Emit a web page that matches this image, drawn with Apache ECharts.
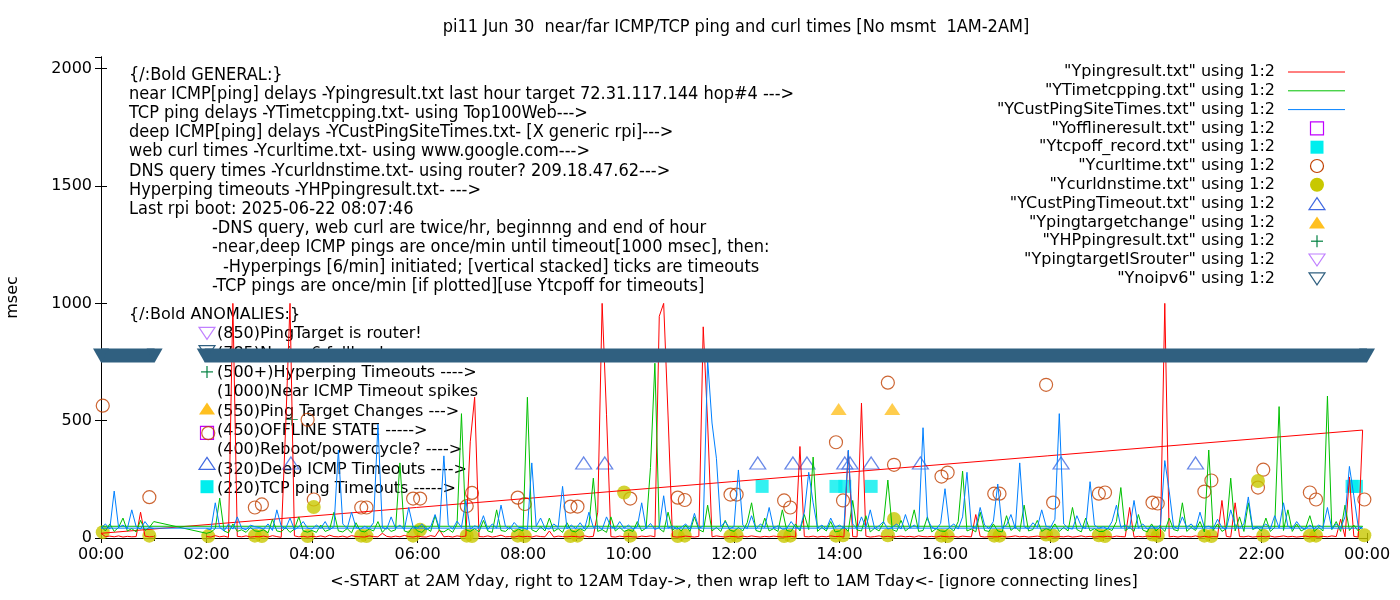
<!DOCTYPE html>
<html>
<head>
<meta charset="utf-8">
<title>pi11 Jun 30 near/far ICMP/TCP ping and curl times</title>
<script src="https://cdn.jsdelivr.net/npm/echarts@6/dist/echarts.min.js"></script>
<style>
  html, body { margin: 0; padding: 0; background: #fff; }
  #chart-panel { width: 1400px; height: 600px; }
</style>
</head>
<body>
<div id="chart-panel"></div>
<script>
/* samples are 5 min apart, x is minute of the day */
const STEP = 5
const MAIN_START = 120   // 02:00 yesterday, runs right to 24:00
const WRAP_START = 0     // then wraps to 00:00 today

/* near ICMP ping, Ypingresult.txt (red) 02:00 .. 23:55, one row per hour */
const nearIcmpMs = [
  6, 4, 10, 5, 8, 3, 1000, 7, 5, 9, 4, 6,
  5, 8, 4, 10, 6, 3, 470, 1000, 9, 5, 7, 4,
  7, 5, 9, 4, 12, 6, 5, 8, 3, 10, 6, 5,
  4, 9, 6, 5, 20, 7, 4, 8, 5, 11, 6, 4,
  8, 5, 4, 10, 6, 35, 5, 7, 4, 9, 6, 8,
  410, 600, 6, 5, 9, 4, 7, 12, 5, 6, 4, 8,
  5, 7, 4, 9, 6, 5, 30, 4, 8, 6, 5, 7,
  6, 4, 9, 5, 7, 110, 1000, 525, 6, 4, 8, 5,
  7, 5, 4, 8, 6, 9, 5, 945, 1000, 520, 6, 4,
  5, 8, 6, 4, 7, 900, 490, 5, 9, 6, 4, 7,
  6, 4, 8, 5, 9, 6, 4, 7, 5, 8, 6, 4,
  5, 7, 4, 390, 6, 5, 8, 4, 7, 5, 9, 6,
  7, 4, 370, 6, 5, 575, 8, 4, 6, 9, 5, 7,
  4, 6, 8, 5, 7, 4, 9, 6, 5, 7, 4, 8,
  6, 5, 7, 4, 8, 6, 5, 100, 7, 4, 6, 5,
  5, 8, 4, 6, 9, 5, 7, 4, 6, 8, 5, 4,
  7, 4, 6, 5, 8, 4, 6, 9, 5, 7, 4, 6,
  5, 7, 4, 8, 6, 5, 130, 4, 7, 5, 8, 6,
  6, 4, 1000, 5, 7, 4, 8, 6, 5, 9, 4, 7,
  4, 6, 5, 160, 7, 4, 150, 6, 5, 8, 4, 6,
  7, 5, 8, 4, 6, 9, 5, 7, 4, 6, 8, 5,
  6, 4, 7, 5, 9, 6, 80, 5, 260, 7, 4, 460
]
const nearIcmpWrapMs = [20, 6, 8, 5, 9, 4, 7, 5, 6, 110, 8, 5, 6]

/* TCP ping, YTimetcpping.txt (green); file opens with one 01:00 sample */
const tcpLeadSample = [60, 70]
const tcpPingMs = [
  20, 25, 40, 170, 30, 22, 60, 28, 35, 24, 45, 30,
  28, 35, 22, 80, 30, 26, 45, 24, 38, 90, 30, 25,
  32, 24, 55, 28, 36, 110, 30, 26, 40, 22, 65, 30,
  26, 38, 30, 70, 24, 45, 28, 35, 320, 30, 24, 50,
  30, 24, 42, 28, 95, 30, 26, 38, 24, 60, 530, 35,
  28, 40, 26, 75, 30, 24, 120, 32, 28, 45, 26, 38,
  30, 600, 35, 26, 48, 30, 85, 28, 40, 24, 65, 30,
  26, 40, 30, 55, 255, 28, 36, 24, 90, 30, 45, 28,
  35, 28, 70, 30, 42, 300, 745, 40, 26, 110, 32, 48,
  30, 55, 28, 90, 36, 26, 140, 30, 45, 28, 75, 34,
  28, 45, 30, 65, 150, 32, 26, 85, 30, 40, 28, 120,
  32, 28, 60, 30, 100, 36, 345, 28, 45, 30, 70, 26,
  30, 48, 28, 160, 34, 30, 95, 26, 42, 30, 65, 247,
  36, 28, 75, 30, 45, 120, 28, 32, 90, 26, 40, 30,
  28, 45, 30, 70, 285, 30, 38, 26, 110, 32, 28, 60,
  30, 26, 95, 32, 48, 28, 140, 30, 36, 75, 28, 40,
  32, 60, 28, 45, 30, 130, 36, 26, 85, 30, 40, 28,
  28, 40, 32, 70, 215, 30, 45, 28, 100, 34, 26, 60,
  30, 48, 28, 85, 36, 30, 150, 28, 45, 32, 70, 26,
  375, 32, 60, 28, 40, 255, 30, 90, 28, 150, 36, 45,
  30, 85, 28, 45, 560, 32, 120, 28, 60, 30, 40, 95,
  28, 45, 30, 605, 36, 70, 28, 140, 32, 55, 30, 50
]
const tcpPingWrapMs = [50, 30, 60, 28, 45, 85, 30, 40, 26, 75, 32, 45, 70]

/* deep ICMP ping, YCustPingSiteTimes.txt (blue) */
const deepIcmpMs = [
  40, 35, 150, 45, 30, 60, 38, 90, 42, 35, 55, 48,
  45, 38, 60, 32, 120, 50, 40, 85, 35, 48, 70, 42,
  38, 55, 42, 70, 35, 48, 375, 60, 40, 110, 45, 38,
  50, 40, 65, 485, 45, 38, 90, 42, 55, 36, 130, 48,
  42, 60, 35, 48, 100, 40, 350, 55, 38, 72, 45, 160,
  38, 52, 44, 95, 36, 60, 42, 140, 50, 38, 66, 45,
  44, 36, 320, 50, 85, 42, 38, 60, 45, 220, 40, 55,
  40, 65, 38, 110, 45, 52, 36, 90, 48, 40, 70, 42,
  55, 38, 48, 150, 40, 62, 36, 45, 180, 42, 50, 38,
  45, 60, 38, 105, 42, 50, 760, 490, 340, 48, 70, 40,
  48, 290, 55, 40, 95, 38, 60, 45, 130, 42, 52, 38,
  40, 70, 45, 38, 110, 280, 150, 42, 55, 38, 85, 45,
  55, 42, 375, 60, 38, 90, 45, 120, 40, 52, 70, 38,
  45, 60, 38, 100, 42, 55, 40, 470, 80, 45, 38, 62,
  210, 45, 60, 38, 90, 280, 48, 42, 130, 55, 40, 70,
  230, 42, 55, 100, 40, 320, 48, 38, 65, 45, 120, 50,
  45, 80, 530, 60, 42, 38, 95, 50, 40, 240, 55, 42,
  48, 38, 70, 140, 45, 55, 40, 160, 42, 60, 38, 50,
  42, 55, 330, 200, 48, 40, 90, 45, 60, 38, 110, 45,
  50, 40, 80, 45, 38, 120, 55, 42, 60, 175, 40, 48,
  45, 60, 38, 95, 42, 150, 50, 40, 70, 45, 38, 55,
  40, 55, 45, 130, 38, 60, 42, 90, 305, 180, 48, 42
]
const deepIcmpWrapMs = [42, 60, 38, 200, 45, 55, 40, 120, 48, 38, 70, 45, 40]

/* [minute, msec] */
const curlTime = [
  [2, 564], [55, 174], [122, 447], [175, 130], [183, 143], [235, 504], [242, 164],
  [296, 130], [302, 130], [355, 168], [363, 168], [416, 136], [422, 192],
  [474, 172], [482, 145], [534, 134], [542, 134], [602, 168], [656, 172],
  [664, 162], [716, 185], [723, 185], [777, 160], [784, 130], [836, 408],
  [844, 160], [895, 662], [902, 312], [956, 262], [963, 279], [1016, 189],
  [1022, 189], [1075, 653], [1083, 151], [1135, 189], [1142, 194], [1196, 151],
  [1202, 147], [1255, 198], [1263, 245], [1316, 215], [1322, 291], [1375, 194],
  [1382, 164], [1437, 164]
]
const curlDnsTime = [
  [2, 25], [55, 10], [122, 8], [175, 10], [183, 8], [235, 8], [242, 132],
  [296, 10], [302, 8], [355, 10], [363, 35], [416, 10], [422, 8], [474, 10],
  [482, 8], [534, 8], [542, 10], [595, 194], [602, 10], [656, 8], [664, 10],
  [716, 8], [723, 10], [777, 8], [784, 10], [836, 10], [844, 12], [895, 12],
  [902, 81], [956, 10], [963, 8], [1016, 10], [1022, 10], [1075, 15], [1083, 10],
  [1135, 12], [1142, 8], [1196, 15], [1202, 10], [1255, 10], [1263, 8],
  [1316, 243], [1322, 10], [1375, 10], [1382, 10], [1437, 12]
]
const custPingTimeout = [
  [216, 320], [549, 320], [573, 320], [747, 320], [787, 320], [803, 320],
  [846, 320], [852, 320], [876, 320], [932, 320], [1092, 320], [1245, 320]
]
const tcpoffRecord = [[752, 220], [836, 220], [846, 220], [876, 220], [1423, 220], [1428, 220]]
const pingTargetChange = [[839, 550], [900, 550]]
const hpPingResult = [[217, 505]]
const offlineResult = []
const pingTargetIsRouter = []
const noIpv6Early = [[0, 778], [61, 778]]
const noIpv6Late = [[118, 778], [1440, 778]]

const Y_MAX = 2050
const X_TICKS_MIN = 120

const titleText = 'pi11 Jun 30  near/far ICMP/TCP ping and curl times [No msmt  1AM-2AM]'
const xName = '<-START at 2AM Yday, right to 12AM Tday->, then wrap left to 1AM Tday<- [ignore connecting lines]'

const generalNotes = [
  '{/:Bold GENERAL:}',
  'near ICMP[ping] delays -Ypingresult.txt last hour target 72.31.117.144 hop#4 --->',
  'TCP ping delays -YTimetcpping.txt- using Top100Web--->',
  'deep ICMP[ping] delays -YCustPingSiteTimes.txt- [X generic rpi]--->',
  'web curl times -Ycurltime.txt- using www.google.com--->',
  'DNS query times -Ycurldnstime.txt- using router? 209.18.47.62--->',
  'Hyperping timeouts -YHPpingresult.txt- --->',
  'Last rpi boot: 2025-06-22 08:07:46',
  '-DNS query, web curl are twice/hr, beginnng and end of hour',
  '-near,deep ICMP pings are once/min until timeout[1000 msec], then:',
  '-Hyperpings [6/min] initiated; [vertical stacked] ticks are timeouts',
  '-TCP pings are once/min [if plotted][use Ytcpoff for timeouts]'
]
const anomalyNotes = [
  '{/:Bold ANOMALIES:}',
  '(850)PingTarget is router!',
  '(785)No ipv6 fallback',
  '(500+)Hyperping Timeouts ---->',
  '(1000)Near ICMP Timeout spikes',
  '(550)Ping Target Changes --->',
  '(450)OFFLINE STATE ----->',
  '(400)Reboot/powercycle? ---->',
  '(320)Deep ICMP Timeouts ---->',
  '(220)TCP ping Timeouts ----->'
]
const keyNames = [
  '"Ypingresult.txt" using 1:2',
  '"YTimetcpping.txt" using 1:2',
  '"YCustPingSiteTimes.txt" using 1:2',
  '"Yofflineresult.txt" using 1:2',
  '"Ytcpoff_record.txt" using 1:2',
  '"Ycurltime.txt" using 1:2',
  '"Ycurldnstime.txt" using 1:2',
  '"YCustPingTimeout.txt" using 1:2',
  '"Ypingtargetchange" using 1:2',
  '"YHPpingresult.txt" using 1:2',
  '"YpingtargetISrouter" using 1:2',
  '"Ynoipv6" using 1:2'
]

! function(){
  const SANS = 'DejaVu Sans'
  const NARROW = '"DejaVu Sans Condensed", "DejaVu Sans"'
  const NONE = 'rgba(0,0,0,0)'

  /* 颜色 / 点样式, 与 gnuplot 的配色一致. */
  const C = {
    red: '#ff0000', green: '#00c000', blue: '#0080ff',
    offline: '#c000ff', tcpoff: '#00eeee', curl: '#c04000', dns: '#c8c800',
    custTimeout: '#4169e1', target: '#ffc020', hp: '#008040',
    router: '#c080ff', noipv6: '#306080'
  }

  /* 值序列 -> [分钟, 值]. */
  function onGrid(start, values){
    return values.map((v, i) => [start + i * STEP, v])
  }

  let redData = onGrid(MAIN_START, nearIcmpMs).concat(onGrid(WRAP_START, nearIcmpWrapMs))
  let greenData = [tcpLeadSample].concat(onGrid(MAIN_START, tcpPingMs), onGrid(WRAP_START, tcpPingWrapMs))
  let blueData = onGrid(MAIN_START, deepIcmpMs).concat(onGrid(WRAP_START, deepIcmpWrapMs))

  function hourLabel(v){
    let h = Math.round(v / 60) % 24
    return (h < 10 ? '0' : '') + h + ':00'
  }

  /* 图例/注释里的小图标. */
  function icon(kind, color, cx, cy){
    let stroke = { stroke: color, lineWidth: 1.2, fill: NONE }
    let fill = { fill: color }
    switch (kind) {
      case 'line':
        return [{ type: 'line', shape: { x1: cx - 29, y1: cy, x2: cx + 28, y2: cy }, style: { stroke: color, lineWidth: 1 } }]
      case 'sqOpen':
        return [{ type: 'rect', shape: { x: cx - 6.5, y: cy - 6.5, width: 13, height: 13 }, style: stroke }]
      case 'sqFill':
        return [{ type: 'rect', shape: { x: cx - 6.5, y: cy - 6.5, width: 13, height: 13 }, style: fill }]
      case 'circOpen':
        return [{ type: 'circle', shape: { cx: cx, cy: cy, r: 6.5 }, style: stroke }]
      case 'circFill':
        return [{ type: 'circle', shape: { cx: cx, cy: cy, r: 7 }, style: fill }]
      case 'triUpOpen':
        return [{ type: 'polygon', shape: { points: [[cx - 8, cy + 6], [cx + 8, cy + 6], [cx, cy - 6]] }, style: stroke }]
      case 'triUpFill':
        return [{ type: 'polygon', shape: { points: [[cx - 8, cy + 6], [cx + 8, cy + 6], [cx, cy - 6]] }, style: fill }]
      case 'triDownOpen':
        return [{ type: 'polygon', shape: { points: [[cx - 8, cy - 6], [cx + 8, cy - 6], [cx, cy + 6]] }, style: stroke }]
      case 'plus':
        return [
          { type: 'line', shape: { x1: cx - 6, y1: cy, x2: cx + 6, y2: cy }, style: { stroke: color, lineWidth: 1.2 } },
          { type: 'line', shape: { x1: cx, y1: cy - 6, x2: cx, y2: cy + 6 }, style: { stroke: color, lineWidth: 1.2 } }
        ]
    }
    return []
  }

  function text(x, y, s, family, size, align){
    return {
      type: 'text', x: x, y: y,
      style: {
        text: s, fontFamily: family, fontSize: size, fill: '#000',
        align: align, verticalAlign: 'middle', textAlign: align, textVerticalAlign: 'middle'
      }
    }
  }

  let els = []

  /* GENERAL 注释块. */
  generalNotes.forEach((s, i) => {
    let x = i < 8 ? 129 : (i === 10 ? 223 : 212)
    els.push(text(x, 75 + i * 19.2, s, NARROW, 18, 'left'))
  })

  /* ANOMALIES 注释块, 带图标. */
  let anomalyIcons = [null, ['triDownOpen', C.router, -1], ['triDownOpen', C.noipv6, -2], ['plus', C.hp, -1], null,
    ['triUpFill', C.target, -3], ['sqOpen', C.offline, 2], null, ['triUpOpen', C.custTimeout, -6], ['sqFill', C.tcpoff, -2]]
  anomalyNotes.forEach((s, i) => {
    let y = 315 + i * 19.3
    els.push(text(i === 0 ? 129 : 217, y, s, SANS, 16, 'left'))
    let ic = anomalyIcons[i]
    if (ic) els = els.concat(icon(ic[0], ic[1], 207, y + ic[2]))
  })

  /* 右上角图例. */
  let keyIcons = [['line', C.red], ['line', C.green], ['line', C.blue], ['sqOpen', C.offline], ['sqFill', C.tcpoff],
    ['circOpen', C.curl], ['circFill', C.dns], ['triUpOpen', C.custTimeout], ['triUpFill', C.target],
    ['plus', C.hp], ['triDownOpen', C.router], ['triDownOpen', C.noipv6]]
  keyNames.forEach((s, i) => {
    let y = 72 + i * 18.8
    els.push(text(1275, y, s, SANS, 16, 'right'))
    els = els.concat(icon(keyIcons[i][0], keyIcons[i][1], 1317, y))
  })
  els.forEach(e => { e.z = 0; e.silent = true })

  let axisFont = { fontFamily: SANS, fontSize: 16, color: '#000' }
  let blackLine = { show: true, lineStyle: { color: '#000', width: 1 } }

  function lineSeries(data, color){
    return {
      type: 'line', data: data, symbol: 'none', silent: true,
      lineStyle: { color: color, width: 1 }, itemStyle: { color: color }
    }
  }
  function pointSeries(data, symbol, size, itemStyle){
    return { type: 'scatter', data: data, symbol: symbol, symbolSize: size, silent: true, itemStyle: itemStyle }
  }
  function bandSeries(data){
    return {
      type: 'line', data: data, clip: false, silent: true,
      symbol: 'triangle', symbolRotate: 180, symbolSize: [16, 14], showSymbol: true,
      lineStyle: { color: C.noipv6, width: 14, cap: 'butt' }, itemStyle: { color: C.noipv6 }
    }
  }

  let myChart = echarts.init(document.getElementById('chart-panel'))
  myChart.setOption({
    animation: false,
    backgroundColor: '#fff',
    title: {
      text: titleText, left: 731, top: 13, textAlign: 'center',
      textStyle: { fontFamily: NARROW, fontSize: 18, fontWeight: 'normal', color: '#000' }
    },
    grid: { left: 101, right: 33, top: 57, bottom: 62, containLabel: false, outerBoundsMode: 'none' },
    xAxis: [{
      type: 'value', min: 0, max: 1440, interval: X_TICKS_MIN, position: 'bottom',
      name: xName, nameLocation: 'middle', nameGap: 36, nameMoveOverlap: false,
      nameTextStyle: axisFont,
      axisLine: blackLine,
      axisTick: { show: true, inside: true, length: 5, lineStyle: { color: '#000' } },
      minorTick: { show: true, splitNumber: 2, length: 3, lineStyle: { color: '#000' } },
      axisLabel: Object.assign({ margin: 9, formatter: hourLabel, showMinLabel: true, showMaxLabel: true }, axisFont),
      splitLine: { show: false }
    }, {
      type: 'value', min: 0, max: 1440, interval: X_TICKS_MIN, position: 'top',
      axisLine: blackLine,
      axisTick: { show: true, inside: true, length: 5, lineStyle: { color: '#000' } },
      minorTick: { show: true, splitNumber: 2, length: 3, lineStyle: { color: '#000' } },
      axisLabel: { show: false }, splitLine: { show: false }
    }],
    yAxis: [{
      type: 'value', min: 0, max: Y_MAX, interval: 500, position: 'left',
      name: 'msec', nameLocation: 'middle', nameGap: 80, nameRotate: 90, nameMoveOverlap: false,
      nameTextStyle: axisFont,
      axisLine: blackLine,
      axisTick: { show: true, inside: true, length: 6, lineStyle: { color: '#000' } },
      axisLabel: Object.assign({ margin: 9, showMaxLabel: false, formatter: v => String(v) }, axisFont),
      splitLine: { show: false }
    }, {
      type: 'value', min: 0, max: Y_MAX, interval: 500, position: 'right',
      axisLine: blackLine,
      axisTick: { show: true, inside: true, length: 6, lineStyle: { color: '#000' } },
      axisLabel: { show: false }, splitLine: { show: false }
    }],
    graphic: { elements: els },
    series: [
      lineSeries(redData, C.red),
      lineSeries(greenData, C.green),
      lineSeries(blueData, C.blue),
      pointSeries(offlineResult, 'rect', 13, { color: NONE, borderColor: C.offline, borderWidth: 1.2 }),
      pointSeries(tcpoffRecord, 'rect', 13, { color: C.tcpoff }),
      pointSeries(curlTime, 'circle', 13, { color: NONE, borderColor: C.curl, borderWidth: 1.2 }),
      pointSeries(curlDnsTime, 'circle', 14, { color: C.dns }),
      pointSeries(custPingTimeout, 'triangle', [16, 12], { color: NONE, borderColor: C.custTimeout, borderWidth: 1.2 }),
      pointSeries(pingTargetChange, 'triangle', [16, 12], { color: C.target }),
      pointSeries(hpPingResult, 'path://M6 0L6 12M0 6L12 6', 12, { color: NONE, borderColor: C.hp, borderWidth: 1.2 }),
      pointSeries(pingTargetIsRouter, 'triangle', [16, 12], { color: NONE, borderColor: C.router, borderWidth: 1.2 }),
      bandSeries(noIpv6Early),
      bandSeries(noIpv6Late)
    ]
  })
}()
</script>
</body>
</html>
